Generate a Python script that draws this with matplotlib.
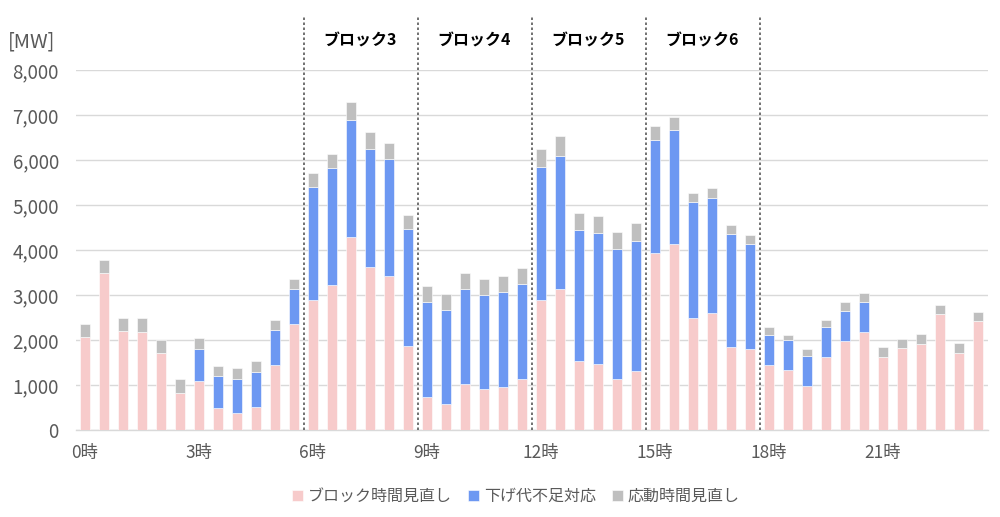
import numpy as np
import matplotlib
matplotlib.use("Agg")
from matplotlib import pyplot as plt

plt.rcParams['font.family'] = ['Noto Sans CJK JP', 'DejaVu Sans']

# half-hour slots 0:00 .. 23:30, MW
block_review = [2070, 3490, 2200, 2180, 1715, 830, 1085, 495, 370, 515, 1440, 2350,
                2900, 3220, 4290, 3620, 3415, 1860, 740, 570, 1035, 910, 960, 1145,
                2880, 3135, 1545, 1480, 1130, 1315, 3940, 4140, 2485, 2595, 1850, 1810,
                1450, 1330, 985, 1620, 1975, 2175, 1635, 1825, 1915, 2580, 1720, 2425]
down_shortage = [0, 0, 0, 0, 0, 0, 720, 710, 770, 785, 775, 775,
                 2490, 2600, 2600, 2615, 2610, 2610, 2100, 2105, 2105, 2100, 2100, 2100,
                 2965, 2960, 2890, 2895, 2890, 2890, 2510, 2520, 2580, 2570, 2505, 2330,
                 665, 675, 670, 670, 680, 680, 0, 0, 0, 0, 0, 0]
response_review = [295, 295, 290, 310, 280, 295, 235, 220, 230, 230, 235, 235,
                   320, 325, 390, 380, 345, 305, 355, 355, 355, 355, 355, 355,
                   390, 430, 390, 390, 390, 390, 310, 295, 205, 205, 205, 205,
                   185, 110, 140, 155, 185, 200, 205, 190, 215, 205, 205, 205]

series_names = ['ブロック時間見直し', '下げ代不足対応', '応動時間見直し']
colors = ['#F7CBCB', '#6D98F2', '#BFBFBF']
tick_pos = [0, 6, 12, 18, 24, 30, 36, 42]
tick_labels = ['0時', '3時', '6時', '9時', '12時', '15時', '18時', '21時']
block_edges = [11.5, 17.5, 23.5, 29.5, 35.5]
block_names = ['ブロック3', 'ブロック4', 'ブロック5', 'ブロック6']

x = np.arange(len(block_review))
a = np.array(block_review)
b = np.array(down_shortage)
c = np.array(response_review)

fig = plt.figure(figsize=(10, 5.17), dpi=100)
ax = fig.add_axes([0.0755, 0.168, 0.912, 0.6966])

ax.bar(x, a, 0.5, color=colors[0], edgecolor='white', linewidth=0.4, label=series_names[0], zorder=3)
ax.bar(x, b, 0.5, bottom=a, color=colors[1], edgecolor='white', linewidth=0.4, label=series_names[1], zorder=3)
ax.bar(x, c, 0.5, bottom=a + b, color=colors[2], edgecolor='white', linewidth=0.4, label=series_names[2], zorder=3)

ax.set_xlim(-0.5, len(x) - 0.5)
ax.set_ylim(0, 8000)
ax.set_yticks(np.arange(0, 8001, 1000))
ax.set_yticklabels([f'{v:,}' for v in range(0, 8001, 1000)])
ax.set_xticks(tick_pos)
ax.set_xticklabels(tick_labels)
ax.tick_params(axis='both', length=0, colors='#595959')
ax.tick_params(axis='y', pad=12, labelsize=13.5)
ax.tick_params(axis='x', pad=10, labelsize=12.5)
ax.grid(axis='y', color='#D9D9D9', linewidth=1, zorder=0)
for s in ['top', 'right', 'left']:
    ax.spines[s].set_visible(False)
ax.spines['bottom'].set_color('#D9D9D9')
ax.spines['bottom'].set_linewidth(1)

# block separators reach above the plot area
for xe in block_edges:
    ax.plot([xe, xe], [0, 9170], color='#595959', linestyle=(0, (1.5, 1.5)),
            linewidth=1.2, clip_on=False, zorder=4)
for i, name in enumerate(block_names):
    ax.text((block_edges[i] + block_edges[i + 1]) / 2, 8660, name, ha='center', va='center',
            fontsize=11.5, fontweight='bold', color='black')

fig.text(0.008, 0.918, '[MW]', fontsize=14.5, color='#595959', ha='left', va='center')

ax.legend(loc='upper center', bbox_to_anchor=(0.483, -0.12), ncol=3, frameon=False,
          fontsize=11.5, handlelength=0.7, handleheight=0.7, handletextpad=0.3,
          columnspacing=1.0, labelcolor='#595959')

fig.savefig('out.png', dpi=100)
